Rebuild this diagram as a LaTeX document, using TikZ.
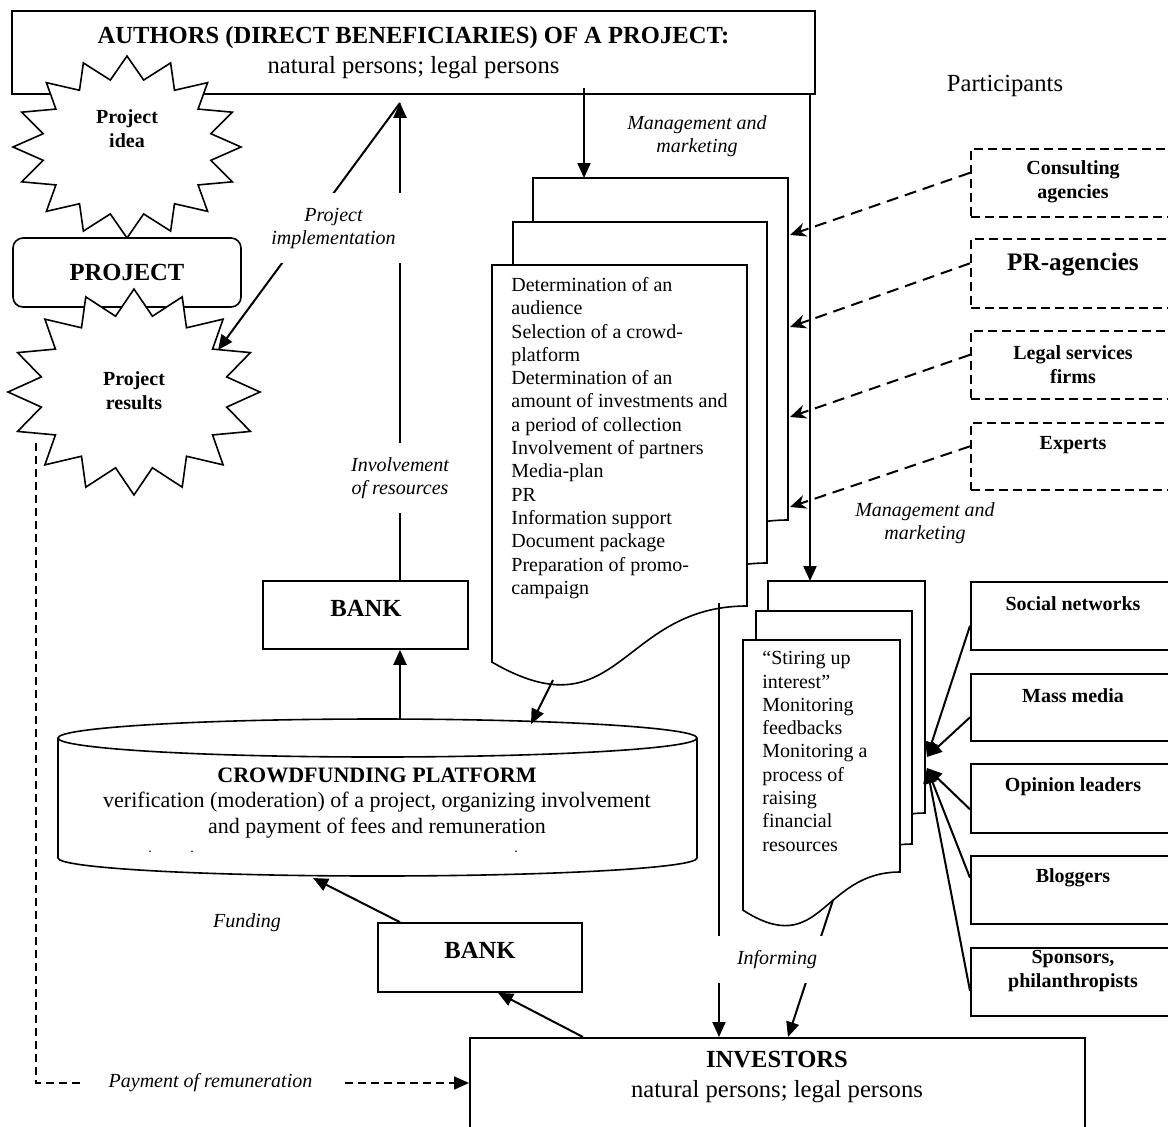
\documentclass[tikz,border=0pt]{standalone}
\usepackage{fontspec}
\setmainfont{Liberation Serif}
\usetikzlibrary{positioning,calc,arrows.meta}

% star shape: centre x, centre y, radius x, radius y
\newcommand{\burst}[4]{%
  \draw[page] plot[samples at={0,...,31}, variable=\k]
    ({#1+ifthenelse(mod(\k,2)==0,1,0.75)*#3*cos(90+\k*11.25)},
     {#2-ifthenelse(mod(\k,2)==0,1,0.75)*#4*sin(90+\k*11.25)}) -- cycle;}
% one sheet of a document stack: left, top, width, height of right side
\newcommand{\docpage}[4]{%
  \draw[page] (#1,#2) -- ({#1+#3},#2) -- ({#1+#3},{#2+#4})
    .. controls ({#1+0.5*#3},{#2+#4}) and ({#1+0.5*#3},{#2+1.381*#4})
    .. (#1,{#2+1.1646*#4}) -- cycle;}

\tikzset{
  page/.style={draw, line width=0.8pt, fill=white},
  box/.style={draw, line width=0.8pt, fill=white, inner sep=0pt},
  dbox/.style={box, dash pattern=on 4.5pt off 2.5pt},
  arr/.style={line width=1pt, -{Triangle[length=7.5pt,width=6.5pt]}},
  darr/.style={line width=1pt, dash pattern=on 6pt off 3.5pt, -{Stealth[length=8pt,width=7pt]}},
  parr/.style={line width=0.8pt, dash pattern=on 4pt off 2.5pt, -{Triangle[length=7.5pt,width=6.5pt]}},
  lab/.style={font=\fontsize{10}{11.5}\selectfont\itshape, align=center, fill=white, inner sep=0pt},
  btxt/.style={font=\fontsize{10}{12}\selectfont\bfseries, align=center},
  bigtxt/.style={font=\fontsize{12.3}{15.3}\selectfont, align=center},
  bigb/.style={font=\fontsize{12.3}{15.3}\selectfont\bfseries, align=center},
  list/.style={font=\fontsize{10}{11.65}\selectfont, align=left, anchor=north west, inner sep=0pt},
  speck/.style={font=\fontsize{7}{7}\selectfont, inner sep=0pt},
}

\begin{document}
\begin{tikzpicture}[x=0.5pt, y=-0.5pt, line join=miter]
\useasboundingbox (0,0) rectangle (1168,1126);

% authors and project
\node[box, minimum width=401.5pt, minimum height=41.5pt, bigtxt] (auth) at (413.5,52.5)
  {\textbf{AUTHORS (DIRECT BENEFICIARIES) OF A PROJECT:}\\natural persons; legal persons};
\burst{127}{147}{114}{91}
\node[btxt] (idea) at (127,129) {Project\\idea};
\node[box, rounded corners=5pt, minimum width=114pt, minimum height=34.5pt, bigb] (proj) at (127,272.5) {PROJECT};
\burst{134}{392}{126}{103}
\node[btxt] (res) at (134,390.5) {Project\\results};

\node[bigtxt] (part) at (1005,86) {Participants};

% management document stack
\docpage{533}{178}{255}{342}
\docpage{513}{222}{254}{341}
\docpage{492}{265}{255}{341}
\node[list] (tasks) at (511,277) {Determination of an\\audience\\Selection of a crowd-\\platform\\Determination of an\\amount of investments and\\a period of collection\\Involvement of partners\\Media-plan\\PR\\Information support\\Document package\\Preparation of promo-\\campaign};

% marketing document stack
\docpage{768}{581}{157}{232}
\docpage{756}{611}{156}{233}
\docpage{743}{640}{157}{232}
\node[list] (monit) at (762,651) {“Stiring up\\interest”\\Monitoring\\feedbacks\\Monitoring a\\process of\\raising\\financial\\resources};

% crowdfunding platform
\draw[page] (58,738) -- (58,858) arc[start angle=180, end angle=360, x radius=159.75pt, y radius=9pt]
  -- (697,738) arc[start angle=0, end angle=180, x radius=159.75pt, y radius=9.5pt] -- cycle;
\draw[line width=0.8pt] (58,738) arc[start angle=180, end angle=360, x radius=159.75pt, y radius=9.5pt];
\node[font=\fontsize{11}{12.75}\selectfont, align=center] (crowd) at (377,803)
  {\textbf{CROWDFUNDING PLATFORM}\\verification (moderation) of a project, organizing involvement\\and payment of fees and remuneration};
\node[speck] (dot1) at (150,852) {.};
\node[speck] (dot2) at (192,852) {.};
\node[speck] (dot3) at (516,852) {.};

% banks and investors
\node[box, minimum width=102.5pt, minimum height=34pt] (bank1) at (365.5,615) {};
\node[bigb] (bank1t) at (366,608) {BANK};
\node[box, minimum width=102pt, minimum height=34.5pt] (bank2) at (480,957.5) {};
\node[bigb] (bank2t) at (480,950) {BANK};
\node[box, minimum width=307.5pt, minimum height=60pt, anchor=north west] (inv) at (469,1037) {};
\node[bigtxt] (invt) at (777,1077) {\textbf{INVESTORS}\\natural persons; legal persons};

% participants
\node[dbox, minimum width=105pt, minimum height=34pt, anchor=north west] (cons) at (970,148) {};
\node[dbox, minimum width=105pt, minimum height=34.5pt, anchor=north west] (pra) at (970,238) {};
\node[dbox, minimum width=105pt, minimum height=34pt, anchor=north west] (leg) at (970,330) {};
\node[dbox, minimum width=105pt, minimum height=33.5pt, anchor=north west] (expt) at (970,422) {};
\node[btxt] (const) at (1073,182) {Consulting\\agencies};
\node[btxt, font=\fontsize{12.6}{14}\selectfont\bfseries] (prat) at (1073,265) {PR-agencies};
\node[btxt] (legt) at (1073,365) {Legal services\\firms};
\node[btxt] (exptt) at (1073,445) {Experts};

\node[box, minimum width=105pt, minimum height=34pt, anchor=north west] (soc) at (970,581) {};
\node[box, minimum width=105pt, minimum height=33.5pt, anchor=north west] (mass) at (970,673) {};
\node[box, minimum width=105pt, minimum height=34.5pt, anchor=north west] (opin) at (970,763) {};
\node[box, minimum width=105pt, minimum height=34pt, anchor=north west] (blog) at (970,855) {};
\node[box, minimum width=105pt, minimum height=34pt, anchor=north west] (spon) at (970,947) {};
\node[btxt] (soct) at (1073,604) {Social networks};
\node[btxt] (masst) at (1073,696) {Mass media};
\node[btxt] (opint) at (1073,787) {Opinion leaders};
\node[btxt] (blogt) at (1073,878) {Bloggers};
\node[btxt] (spont) at (1073,971) {Sponsors,\\philanthropists};

% connector ends
\coordinate (xa) at (400,0);
\coordinate (ctop) at (400,719);
\coordinate (pi0) at (400,103);
\coordinate (resin) at (218,350);
\coordinate (m1) at (584,88);
\coordinate (d1top) at (584,178);
\coordinate (d2top) at (810,581);
\coordinate (t1) at (790,235);
\coordinate (t2) at (790,327);
\coordinate (t3) at (790,417);
\coordinate (t4) at (790,507);
\coordinate (h1) at (927,757);
\coordinate (h2) at (927,768);
\coordinate (d1out) at (553,680);
\coordinate (cin) at (531,724);
\coordinate (d1low) at (719,603);
\coordinate (d2low) at (833,900);
\coordinate (cbot) at (313,878);
\coordinate (pay0) at (36,443);
\coordinate (pay1) at (36,1083);

% arrows
\draw[arr, shorten >=4pt] (bank1.north -| xa) -- (auth.south -| xa);
\draw[arr] (ctop) -- (bank1.south -| ctop);
\draw[arr] (pi0) -- (resin);
\draw[arr] (m1) -- (d1top);
\draw[arr] (auth.south -| d2top) -- (d2top);
\draw[darr] ([yshift=5pt]cons.west) -- (t1);
\draw[darr] ([yshift=5pt]pra.west) -- (t2);
\draw[darr] ([yshift=5pt]leg.west) -- (t3);
\draw[darr] ([yshift=5pt]expt.west) -- (t4);
\draw[arr] ([yshift=-5pt]soc.west) -- (h1);
\draw[arr] ([yshift=-5pt]mass.west) -- (h1);
\draw[arr] ([yshift=-5.5pt]opin.west) -- (h2);
\draw[arr] ([yshift=6pt]blog.west) -- (h2);
\draw[arr] ([yshift=-4.5pt]spon.west) -- (h2);
\draw[arr] (d1out) -- (cin);
\draw[arr] (d1low) -- (inv.north -| d1low);
\draw[arr] (d2low) -- (inv.north -| 788,0);
\draw[arr] (bank2.north -| xa) -- (cbot);
\draw[arr] (inv.north -| 583,0) -- (bank2.south -| 498,0);
\draw[parr] (pay0) -- (pay1) -- (pay1 -| inv.west);

% labels
\node[lab, minimum width=71.5pt, minimum height=35pt] (implab) at (333.5,228) {Project\\implementation};
\node[lab, minimum width=50pt, minimum height=35pt] (invlab) at (400,478) {Involvement\\of resources};
\node[lab] (mm1) at (697,136) {Management and\\marketing};
\node[lab] (mm2) at (925,523) {Management and\\marketing};
\node[lab] (fund) at (247,923) {Funding};
\node[lab, minimum width=62pt, minimum height=23.5pt] (inf) at (777,959.5) {Informing};
\node[lab, minimum width=130.5pt, minimum height=10pt] (paylab) at (210.5,1083) {Payment of remuneration};
\end{tikzpicture}
\end{document}
